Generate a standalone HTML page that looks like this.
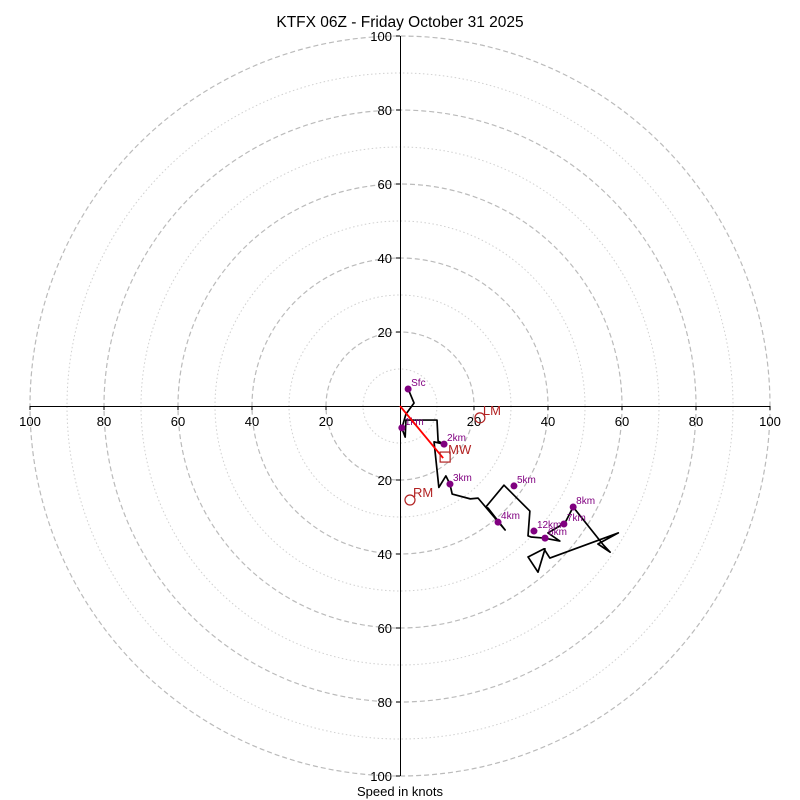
<!DOCTYPE html>
<html><head><meta charset="utf-8"><style>
body{margin:0;background:#fff}
svg{display:block;font-family:"Liberation Sans",sans-serif}
</style></head><body>
<svg id="c" width="800" height="800" xmlns="http://www.w3.org/2000/svg">
<text x="400" y="27" text-anchor="middle" font-size="15.5">KTFX 06Z - Friday October 31 2025</text>
<text x="400" y="796" text-anchor="middle" font-size="13">Speed in knots</text>
<g id="grid"></g><g id="axes"></g><g id="trace"></g><g id="marks"></g>
</svg>
<script>
const ringValues=[10,20,30,40,50,60,70,80,90,100];
const tickLabels=[20,40,60,80,100];
// hodograph trace (u east, v north in knots; negative v = south)
const traceU=[2.2,3.8,1.6,0.5,1.4,1.6,10,10.3,11.9,9.2,10.5,12.4,13.5,14.1,19,21.1,28.4,23.8,23.2,28.1,30.8,35.1,34.6,35.4,38.9,43.2,40,44.6,46.8,55,56.8,53.5,59,40.5,38.9,39.2,37.3,34.6,38.9];
const traceV=[4.6,0.8,-2.2,-6,-8.4,-3.8,-3.8,-9.5,-10.3,-9.7,-22,-18.9,-21.1,-23.8,-25.1,-24.9,-33.5,-27.6,-27.3,-21.4,-24.1,-28.4,-35.1,-35.4,-35.7,-36.5,-34.3,-31.6,-27.3,-37.6,-39.5,-37.3,-34.3,-41.1,-38.6,-38.6,-44.9,-40.8,-38.6];
const levelNames=["Sfc","1km","2km","3km","4km","5km","6km","7km","8km","12km"];
const levelU=[2.2,0.5,11.9,13.5,26.5,30.8,39.2,44.3,46.8,36.2];
const levelV=[4.6,-5.9,-10.3,-21.1,-31.4,-21.6,-35.7,-31.9,-27.3,-33.8];
const motionNames=["LM","MW","RM"];
const motionU=[21.6,12.2,2.7];
const motionV=[-3.2,-13.8,-25.4];

const cx=400,cy=406,k=3.7;
const X=u=>cx+u*k, Y=v=>cy-v*k;
const NS="http://www.w3.org/2000/svg";
function mk(t,p,a){const e=document.createElementNS(NS,t);for(const n in a)e.setAttribute(n,a[n]);p.appendChild(e);return e;}
const grid=document.getElementById('grid');
ringValues.forEach(r=>{
  const e=mk('circle',grid,{cx:cx,cy:cy,r:r*k,fill:'none',stroke:r%20?'#d0d0d0':'#bbb','stroke-width':r%20?1:1.2,'stroke-dasharray':r%20?'1.5,2.5':'5,3'});
  
  
});
const ax=document.getElementById('axes');
let l=mk('line',ax,{x1:X(-100),y1:cy+0.5,x2:X(100),y2:cy+0.5,stroke:'#000'});

l=mk('line',ax,{x1:cx+0.5,y1:Y(100),x2:cx+0.5,y2:Y(-100),stroke:'#000'});

tickLabels.forEach(t=>{
  [[X(t),cy+20,'middle'],[X(-t),cy+20,'middle'],[cx-8,Y(t)+5,'end'],[cx-8,Y(-t)+5,'end']].forEach(p=>{
    const e=mk('text',ax,{x:p[0],y:p[1],'text-anchor':p[2],'font-size':13});e.textContent=t;
    
    
  });
  mk('line',ax,{x1:cx-4,y1:Y(t),x2:cx,y2:Y(t),stroke:'#000'});
  mk('line',ax,{x1:cx-4,y1:Y(-t),x2:cx,y2:Y(-t),stroke:'#000'});
  mk('line',ax,{x1:X(t),y1:cy,x2:X(t),y2:cy+4,stroke:'#000'});
  mk('line',ax,{x1:X(-t),y1:cy,x2:X(-t),y2:cy+4,stroke:'#000'});
});
const tr=document.getElementById('trace');
const pl=mk('polyline',tr,{points:traceU.map((u,i)=>X(u)+','+Y(traceV[i])).join(' '),fill:'none',stroke:'#000','stroke-width':1.7,'stroke-linejoin':'round'});

const mg=document.getElementById('marks');
levelNames.forEach((n,i)=>{
  const d=mk('circle',mg,{cx:X(levelU[i]),cy:Y(levelV[i]),r:3.5,fill:'purple'});
  
  const t=mk('text',mg,{x:X(levelU[i])+3,y:Y(levelV[i])-3,'font-size':10,fill:'purple'});t.textContent=n;
  
});
const ar=mk('line',mg,{x1:cx,y1:cy,x2:X(motionU[1])-2,y2:Y(motionV[1])+1,stroke:'red','stroke-width':1.8});

motionNames.forEach((n,i)=>{
  const x=X(motionU[i]),y=Y(motionV[i]);let s;
  if(n==='MW')s=mk('rect',mg,{x:x-5,y:y-5,width:10,height:10,fill:'none',stroke:'#b22222','stroke-width':1.2});
  else s=mk('circle',mg,{cx:x,cy:y,r:5,fill:'none',stroke:'#b22222','stroke-width':1.2});
  
  const t=mk('text',mg,{x:x+3,y:y-3,'font-size':13,fill:'#b22222'});t.textContent=n;
  
});
</script>
</body></html>
